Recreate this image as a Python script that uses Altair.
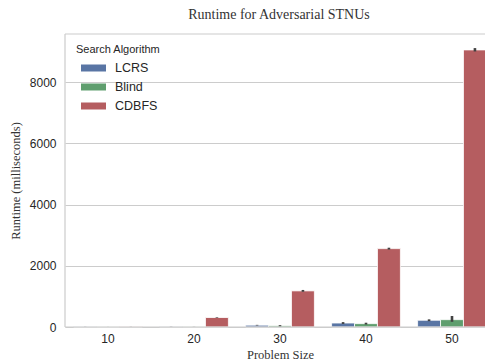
import altair as alt
import pandas as pd

# Problem sizes and search algorithms
sizes = [10, 20, 30, 40, 50]
algorithms = ["LCRS", "Blind", "CDBFS"]

# Mean runtime (ms) per algorithm, one value per problem size
lcrs_ms = [10, 15, 60, 130, 220]
blind_ms = [5, 10, 40, 110, 240]
cdbfs_ms = [15, 310, 1180, 2560, 9050]

# Confidence interval bounds (ms)
lcrs_lo = [8, 12, 50, 100, 190]
lcrs_hi = [12, 18, 70, 160, 250]
blind_lo = [4, 8, 20, 80, 170]
blind_hi = [6, 12, 60, 140, 360]
cdbfs_lo = [13, 300, 1150, 2530, 9000]
cdbfs_hi = [17, 320, 1210, 2590, 9110]

colors = ["#5975a4", "#5f9e6e", "#b55d60"]
frame_color = "#cccccc"

rows = []
for alg, vals, los, his in [
    ("LCRS", lcrs_ms, lcrs_lo, lcrs_hi),
    ("Blind", blind_ms, blind_lo, blind_hi),
    ("CDBFS", cdbfs_ms, cdbfs_lo, cdbfs_hi),
]:
    for s, v, lo, hi in zip(sizes, vals, los, his):
        rows.append({"size": s, "alg": alg, "ms": v, "lo": lo, "hi": hi})
df = pd.DataFrame(rows)

W, H = 420, 293

# The band range runs a little past the visible frame, so the last group is cut at the edge
x_enc = alt.X(
    "size:O",
    title="Problem Size",
    scale=alt.Scale(paddingInner=0.2, paddingOuter=0.1, range=[0, 430]),
    axis=alt.Axis(
        labelAngle=0, ticks=False, domain=False, grid=False,
        labelPadding=6, labelFontSize=12, labelColor="#262626",
        labelFont="Liberation Sans",
        titleFont="Liberation Serif", titleFontSize=12.5,
        titleFontWeight="normal", titleColor="#333333", titlePadding=4,
    ),
)
xoff = alt.XOffset("alg:N", sort=algorithms,
                   scale=alt.Scale(paddingInner=0, paddingOuter=0))
y_scale = alt.Scale(domain=[0, 9570], nice=False, zero=True)

bars = alt.Chart(df).mark_bar(stroke="white", strokeWidth=0.8).encode(
    x=x_enc,
    xOffset=xoff,
    y=alt.Y(
        "ms:Q",
        title="Runtime (milliseconds)",
        scale=y_scale,
        axis=alt.Axis(
            values=[0, 2000, 4000, 6000, 8000], format="d",
            ticks=False, domain=False,
            grid=True, gridColor=frame_color, gridWidth=1,
            labelPadding=9, labelFontSize=12, labelColor="#262626",
            labelFont="Liberation Sans",
            titleFont="Liberation Serif", titleFontSize=12.5,
            titleFontWeight="normal", titleColor="#333333", titlePadding=7,
        ),
    ),
    color=alt.Color(
        "alg:N",
        sort=algorithms,
        scale=alt.Scale(domain=algorithms, range=colors),
        legend=alt.Legend(
            title="Search Algorithm",
            orient="none", legendX=11, legendY=10,
            titleFont="Liberation Sans", titleFontSize=11,
            titleFontWeight="normal", titleColor="#262626", titlePadding=6,
            labelFont="Liberation Sans", labelFontSize=12.5,
            labelColor="#262626",
            symbolType="M-1.79,-0.5H1.79V0.5H-1.79Z",
            symbolSize=196, symbolStrokeWidth=0, symbolOpacity=1,
            symbolOffset=10.5, labelOffset=14.5, rowPadding=5,
        ),
    ),
)

errs = alt.Chart(df).mark_rule(color="#424242", strokeWidth=2.6).encode(
    x="size:O",
    xOffset=xoff,
    y=alt.Y("lo:Q", scale=y_scale),
    y2="hi:Q",
)

# Frame on the left, top and bottom of the plot area
frame_top = alt.Chart().mark_rule(color=frame_color, strokeWidth=1.2).encode(
    x=alt.value(0), x2=alt.value(W + 12), y=alt.value(0)
)
frame_bottom = alt.Chart().mark_rule(color=frame_color, strokeWidth=1.2).encode(
    x=alt.value(0), x2=alt.value(W + 12), y=alt.value(H)
)
frame_left = alt.Chart().mark_rule(color=frame_color, strokeWidth=1.2).encode(
    x=alt.value(0), y=alt.value(0), y2=alt.value(H)
)

chart = alt.layer(bars, errs, frame_top, frame_bottom, frame_left).properties(
    width=W,
    height=H,
    autosize=alt.AutoSizeParams(type="none"),
    padding={"left": 65, "top": 34, "right": 0, "bottom": 33},
    title=alt.Title(
        "Runtime for Adversarial STNUs",
        font="Liberation Serif", fontSize=14, fontWeight="normal",
        color="#333333", offset=11, anchor="middle", dx=4,
    ),
    background="white",
).configure_view(strokeWidth=0)

chart.save("out.html", embed_options={"renderer": "svg", "actions": False})
